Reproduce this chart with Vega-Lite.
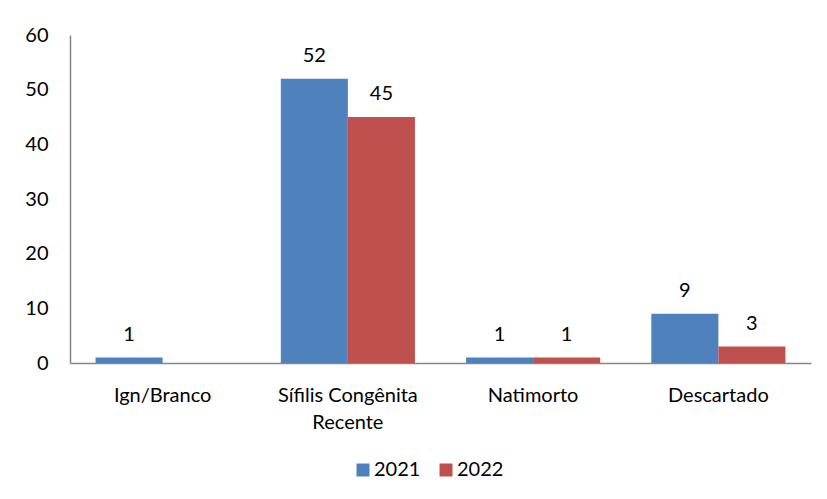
{
  "$schema": "https://vega.github.io/schema/vega-lite/v6.json",
  "width": 741,
  "height": 328,
  "padding": {"left": 24, "top": 25, "right": 10, "bottom": 5},
  "background": "white",
  "config": {
    "view": {"stroke": null},
    "font": "Lato",
    "axis": {"labelFont": "Lato", "labelColor": "#000000", "labelFontSize": 20},
    "legend": {"labelFont": "Lato", "labelFontSize": 20, "labelColor": "#000000"}
  },
  "data": {
    "values": [
      {"categoria": "Ign/Branco", "ano": "2021", "casos": 1},
      {"categoria": "Sífilis Congênita Recente", "ano": "2021", "casos": 52},
      {"categoria": "Sífilis Congênita Recente", "ano": "2022", "casos": 45},
      {"categoria": "Natimorto", "ano": "2021", "casos": 1},
      {"categoria": "Natimorto", "ano": "2022", "casos": 1},
      {"categoria": "Descartado", "ano": "2021", "casos": 9},
      {"categoria": "Descartado", "ano": "2022", "casos": 3}
    ]
  },
  "encoding": {
    "x": {
      "field": "categoria",
      "type": "nominal",
      "sort": ["Ign/Branco", "Sífilis Congênita Recente", "Natimorto", "Descartado"],
      "scale": {"paddingInner": 0.276, "paddingOuter": 0.138},
      "axis": {
        "title": null,
        "labelAngle": 0,
        "domainColor": "#868686",
        "domainWidth": 1.5,
        "ticks": false,
        "labelPadding": 22,
        "labelLineHeight": 27,
        "labelExpr": "datum.value == 'Sífilis Congênita Recente' ? ['Sífilis Congênita', 'Recente'] : datum.value"
      }
    },
    "xOffset": {
      "field": "ano",
      "type": "nominal",
      "scale": {"domain": ["2021", "2022"], "paddingInner": 0, "paddingOuter": 0}
    },
    "y": {
      "field": "casos",
      "type": "quantitative",
      "scale": {"domain": [0, 60], "nice": false},
      "axis": {
        "title": null,
        "values": [0, 10, 20, 30, 40, 50, 60],
        "grid": false,
        "ticks": false,
        "domainColor": "#868686",
        "domainWidth": 1.5,
        "labelPadding": 22
      }
    }
  },
  "layer": [
    {
      "mark": {"type": "bar"},
      "encoding": {
        "color": {
          "field": "ano",
          "type": "nominal",
          "scale": {"domain": ["2021", "2022"], "range": ["#4F81BD", "#C0504D"]},
          "legend": {
            "title": null,
            "orient": "none",
            "direction": "horizontal",
            "legendX": 283,
            "legendY": 425,
            "symbolType": "square",
            "symbolSize": 169,
            "symbolStrokeWidth": 0,
            "columnPadding": 15,
            "labelOffset": 1
          }
        }
      }
    },
    {
      "mark": {"type": "text", "baseline": "alphabetic", "dy": -17, "fontSize": 20, "color": "#000000"},
      "encoding": {"text": {"field": "casos", "type": "quantitative"}}
    }
  ]
}
